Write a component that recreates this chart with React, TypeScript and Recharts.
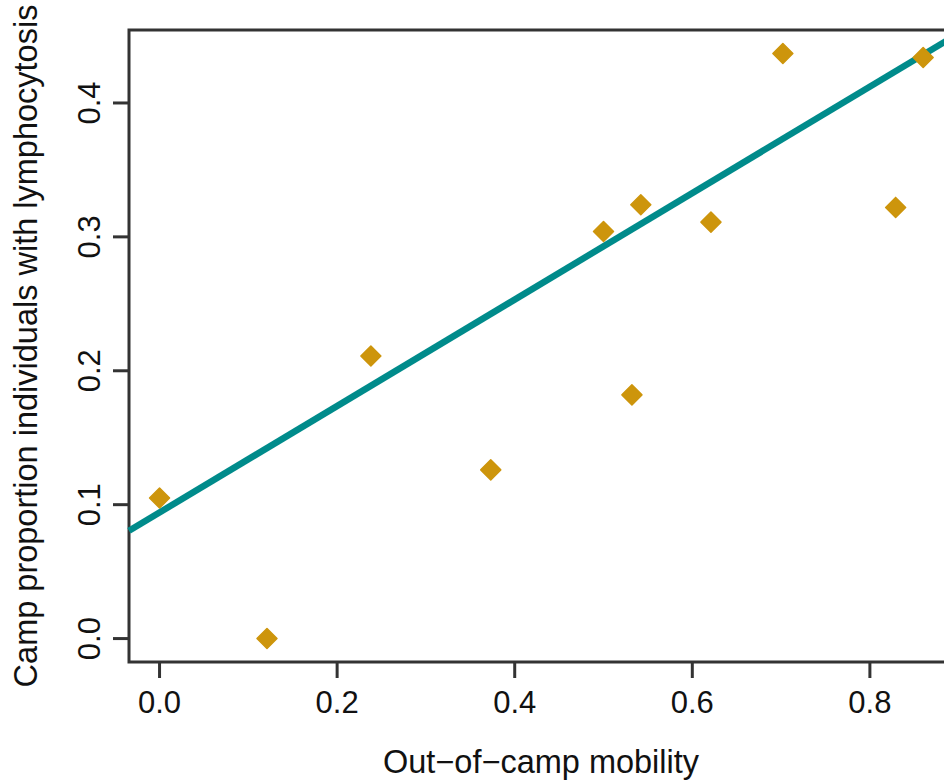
import React from 'react'
import { ComposedChart, Scatter, XAxis, YAxis, ReferenceLine, ReferenceArea } from 'recharts'

// values
const mobility = [0, 0.121, 0.238, 0.373, 0.5, 0.532, 0.542, 0.621, 0.702, 0.829, 0.86]
const lymphocytosis = [0.105, 0, 0.211, 0.126, 0.304, 0.182, 0.324, 0.311, 0.437, 0.322, 0.434]

// fitted line endpoints at the plot edges
const fitX = [-0.0344, 0.8936]
const fitY = [0.0805, 0.4494]

const xTicks = [0, 0.2, 0.4, 0.6, 0.8]
const yTicks = [0, 0.1, 0.2, 0.3, 0.4]
const xDomain = [-0.0344, 0.8936]
const yDomain = [-0.0175, 0.4545]

const xTitle = 'Out\u2212of\u2212camp mobility'
const yTitle = 'Camp proportion individuals with lymphocytosis'

const POINT = '#CD950C'
const FIT = '#008B8B'
const INK = '#333333'
const FONT = '"Liberation Sans", Arial, sans-serif'

const data = mobility.map((x, i) => ({ x, y: lymphocytosis[i] }))

const Diamond = (props: any) => {
  const { cx, cy } = props
  const r = 10
  return (
    <polygon
      points={`${cx},${cy - r} ${cx + r},${cy} ${cx},${cy + r} ${cx - r},${cy}`}
      fill={POINT}
      stroke={POINT}
      strokeWidth={1.5}
      strokeLinejoin="round"
    />
  )
}

const XTick = ({ x, y, payload }: any) => (
  <text x={x} y={y + 33} textAnchor="middle" fontSize={31} fontFamily={FONT} fill="#111">
    {Number(payload.value).toFixed(1)}
  </text>
)

const YTick = ({ x, y, payload }: any) => (
  <text
    x={x - 11}
    y={y}
    textAnchor="middle"
    fontSize={31}
    fontFamily={FONT}
    fill="#111"
    transform={`rotate(-90 ${x - 11} ${y})`}
  >
    {Number(payload.value).toFixed(1)}
  </text>
)

const XTitle = ({ viewBox }: any) => {
  const cx = viewBox.x + viewBox.width / 2
  return (
    <text x={cx} y={773} textAnchor="middle" fontSize={32.5} fontFamily={FONT} fill="#111">
      {xTitle}
    </text>
  )
}

const YTitle = ({ viewBox }: any) => {
  const cy = viewBox.y + viewBox.height / 2
  return (
    <text
      x={37}
      y={cy}
      textAnchor="middle"
      fontSize={32.5}
      fontFamily={FONT}
      fill="#111"
      transform={`rotate(-90 37 ${cy})`}
    >
      {yTitle}
    </text>
  )
}

export default function App() {
  return (
    <div
      style={{
        position: 'absolute',
        left: 0,
        top: 0,
        width: 944,
        height: 780,
        overflow: 'hidden',
        background: '#fff',
      }}
    >
      <ComposedChart width={980} height={780} data={data} margin={{ top: 30, right: 27, bottom: 0, left: 0 }}>
        <XAxis
          dataKey="x"
          type="number"
          domain={xDomain}
          ticks={xTicks}
          allowDataOverflow
          axisLine={false}
          tickSize={16}
          tickLine={{ stroke: INK, strokeWidth: 3 }}
          tick={<XTick />}
          height={118}
          label={{ content: <XTitle /> }}
        />
        <YAxis
          dataKey="y"
          type="number"
          domain={yDomain}
          ticks={yTicks}
          allowDataOverflow
          axisLine={false}
          tickSize={16}
          tickLine={{ stroke: INK, strokeWidth: 3 }}
          tick={<YTick />}
          width={129}
          label={{ content: <YTitle /> }}
        />
        <Scatter data={data} dataKey="y" shape={<Diamond />} isAnimationActive={false} />
        <ReferenceLine
          segment={[
            { x: fitX[0], y: fitY[0] },
            { x: fitX[1], y: fitY[1] },
          ]}
          stroke={FIT}
          strokeWidth={6.5}
          ifOverflow="visible"
        />
        <ReferenceArea
          x1={xDomain[0]}
          x2={xDomain[1]}
          y1={yDomain[0]}
          y2={yDomain[1]}
          fill="none"
          fillOpacity={0}
          stroke={INK}
          strokeWidth={3}
          ifOverflow="visible"
        />
      </ComposedChart>
    </div>
  )
}
